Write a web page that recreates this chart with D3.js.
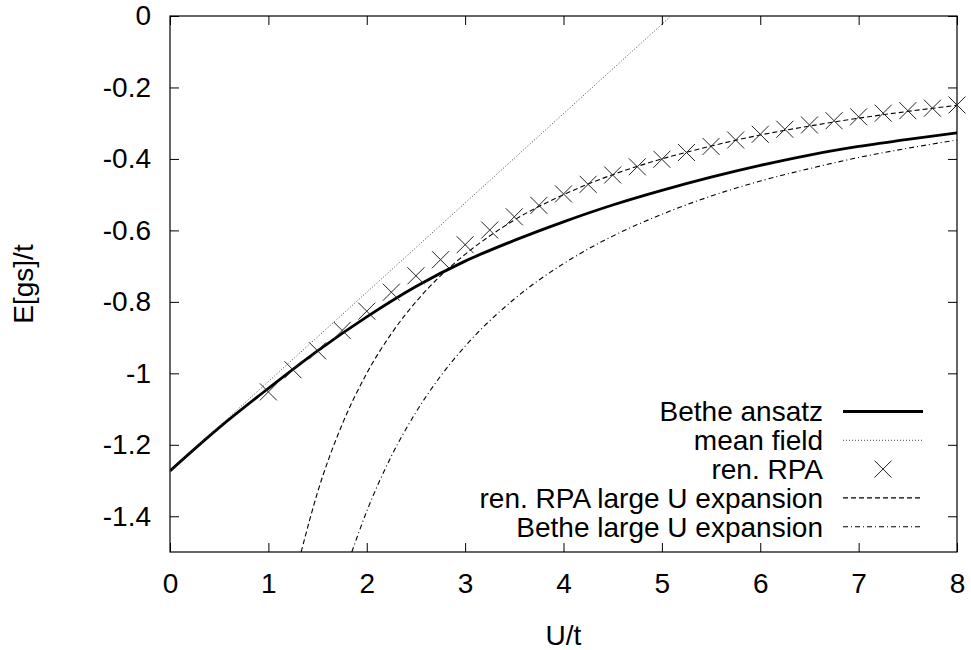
<!DOCTYPE html>
<html><head><meta charset="utf-8">
<script src="https://cdn.jsdelivr.net/npm/d3@7"></script>
<style>body{margin:0;background:#fff}text{font-family:"Liberation Sans",Arial,sans-serif;fill:#000}</style>
</head><body>
<svg id="c" width="971" height="650"></svg>
<script>
// ---- data ----
const xTicks = [0,1,2,3,4,5,6,7,8];
const yTicks = [0,-0.2,-0.4,-0.6,-0.8,-1,-1.2,-1.4];
const yTickLabels = ["0","-0.2","-0.4","-0.6","-0.8","-1","-1.2","-1.4"];
const seriesNames = ["Bethe ansatz","mean field","ren. RPA","ren. RPA large U expansion","Bethe large U expansion"];

const betheU = [0,0.5,1,1.5,2,2.5,3,3.5,4,4.5,5,5.5,6,6.5,7,7.5,8];
const betheE = [-1.273,-1.152,-1.042,-0.937,-0.842,-0.757,-0.686,-0.628,-0.576,-0.529,-0.488,-0.451,-0.418,-0.389,-0.365,-0.345,-0.327];

const mfU = [0,5.093];
const mfE = [-1.273,0];

const rpaU = [1,1.25,1.5,1.75,2,2.25,2.5,2.75,3,3.25,3.5,3.75,4,4.25,4.5,4.75,5,5.25,5.5,5.75,6,6.25,6.5,6.75,7,7.25,7.5,7.75,8];
const rpaE = [-1.052,-0.990,-0.937,-0.880,-0.826,-0.773,-0.727,-0.682,-0.640,-0.599,-0.562,-0.530,-0.498,-0.471,-0.445,-0.422,-0.401,-0.382,-0.365,-0.347,-0.331,-0.317,-0.305,-0.293,-0.282,-0.272,-0.265,-0.258,-0.249];

const rpaLargeU = [1.333,1.5,1.75,2,2.25,2.5,2.75,3,3.5,4,4.5,5,5.5,6,6.5,7,7.5,8];
const rpaLargeE = [-1.5,-1.333,-1.143,-1,-0.889,-0.8,-0.727,-0.667,-0.571,-0.5,-0.444,-0.4,-0.364,-0.333,-0.308,-0.286,-0.267,-0.25];

const betheLargeU = [1.848,2,2.25,2.5,2.75,3,3.5,4,4.5,5,5.5,6,6.5,7,7.5,8];
const betheLargeE = [-1.5,-1.386,-1.232,-1.109,-1.008,-0.924,-0.792,-0.693,-0.616,-0.555,-0.504,-0.462,-0.427,-0.396,-0.370,-0.347];

// ---- layout ----
const L=170, R=957, T=16, B=552;
const svg = d3.select("#c");
const x = d3.scaleLinear().domain([0,8]).range([L,R]);
const y = d3.scaleLinear().domain([-1.5,0]).range([B,T]);

svg.append("defs").append("clipPath").attr("id","clip")
  .append("rect").attr("x",L).attr("y",T).attr("width",R-L).attr("height",B-T);

const FS = 28;
// axes with inward ticks
const ax = svg.append("g");
ax.append("g").attr("transform",`translate(0,${B})`)
  .call(d3.axisBottom(x).tickValues(xTicks).tickSize(-9).tickPadding(21).tickFormat(d3.format("d")))
  .call(g=>g.select(".domain").remove());
ax.append("g").attr("transform",`translate(0,${T})`)
  .call(d3.axisTop(x).tickValues(xTicks).tickSize(-9).tickFormat(""))
  .call(g=>g.select(".domain").remove());
ax.append("g").attr("transform",`translate(${L},0)`)
  .call(d3.axisLeft(y).tickValues(yTicks).tickSize(-9).tickPadding(19).tickFormat((d,i)=>yTickLabels[i]))
  .call(g=>g.select(".domain").remove());
ax.append("g").attr("transform",`translate(${R},0)`)
  .call(d3.axisRight(y).tickValues(yTicks).tickSize(-9).tickFormat(""))
  .call(g=>g.select(".domain").remove());
ax.selectAll(".tick line").attr("stroke","#000").attr("stroke-width",1);
ax.selectAll(".tick text").attr("font-size",FS).attr("font-family","Liberation Sans, Arial, sans-serif").attr("fill","#000");

svg.append("rect").attr("x",L).attr("y",T).attr("width",R-L).attr("height",B-T)
  .attr("fill","none").attr("stroke","#000").attr("stroke-width",1.2);

// axis titles
svg.append("text").attr("x",(L+R)/2).attr("y",645).attr("text-anchor","middle").attr("font-size",FS).text("U/t");
svg.append("text").attr("transform",`translate(33,${(T+B)/2}) rotate(-90)`).attr("text-anchor","middle").attr("font-size",FS).text("E[gs]/t");

// curves
const plot = svg.append("g").attr("clip-path","url(#clip)");
const line = d3.line().x(d=>x(d[0])).y(d=>y(d[1])).curve(d3.curveMonotoneX);
const zip = (a,b)=>a.map((v,i)=>[v,b[i]]);

const styles = [
  {stroke:"#000", w:2.8, dash:null},
  {stroke:"#444", w:1, dash:"1,2"},
  null,
  {stroke:"#000", w:1.1, dash:"5,3"},
  {stroke:"#000", w:1.1, dash:"5,3,1,3"}
];
plot.append("path").datum(zip(betheU,betheE)).attr("d",line).attr("fill","none")
  .attr("stroke",styles[0].stroke).attr("stroke-width",styles[0].w);
plot.append("path").datum(zip(mfU,mfE)).attr("d",d3.line().x(d=>x(d[0])).y(d=>y(d[1]))).attr("fill","none")
  .attr("stroke",styles[1].stroke).attr("stroke-width",styles[1].w).attr("stroke-dasharray",styles[1].dash);
plot.append("path").datum(zip(rpaLargeU,rpaLargeE)).attr("d",line).attr("fill","none")
  .attr("stroke",styles[3].stroke).attr("stroke-width",styles[3].w).attr("stroke-dasharray",styles[3].dash);
plot.append("path").datum(zip(betheLargeU,betheLargeE)).attr("d",line).attr("fill","none")
  .attr("stroke",styles[4].stroke).attr("stroke-width",styles[4].w).attr("stroke-dasharray",styles[4].dash);

const cs = 8.5;
function cross(g, cx, cy){
  g.append("path").attr("d",`M${cx-cs},${cy-cs}L${cx+cs},${cy+cs}M${cx-cs},${cy+cs}L${cx+cs},${cy-cs}`)
   .attr("stroke","#222").attr("stroke-width",1).attr("fill","none");
}
const pts = svg.append("g");
zip(rpaU,rpaE).forEach(d=>cross(pts,x(d[0]),y(d[1])));

// legend
const lg = svg.append("g");
const ly0 = 411.5, lstep = 28.8, ltx = 823, lx1 = 843, lx2 = 923;
seriesNames.forEach((name,i)=>{
  const yy = ly0 + i*lstep;
  lg.append("text").attr("x",ltx).attr("y",yy).attr("dy","0.35em").attr("text-anchor","end").attr("font-size",FS).text(name);
  if(i===2){ cross(lg,(lx1+lx2)/2,yy); }
  else {
    const s = styles[i];
    lg.append("line").attr("x1",lx1).attr("x2",lx2).attr("y1",yy).attr("y2",yy)
      .attr("stroke",s.stroke).attr("stroke-width",s.w).attr("stroke-dasharray",s.dash);
  }
});
</script>
</body></html>
